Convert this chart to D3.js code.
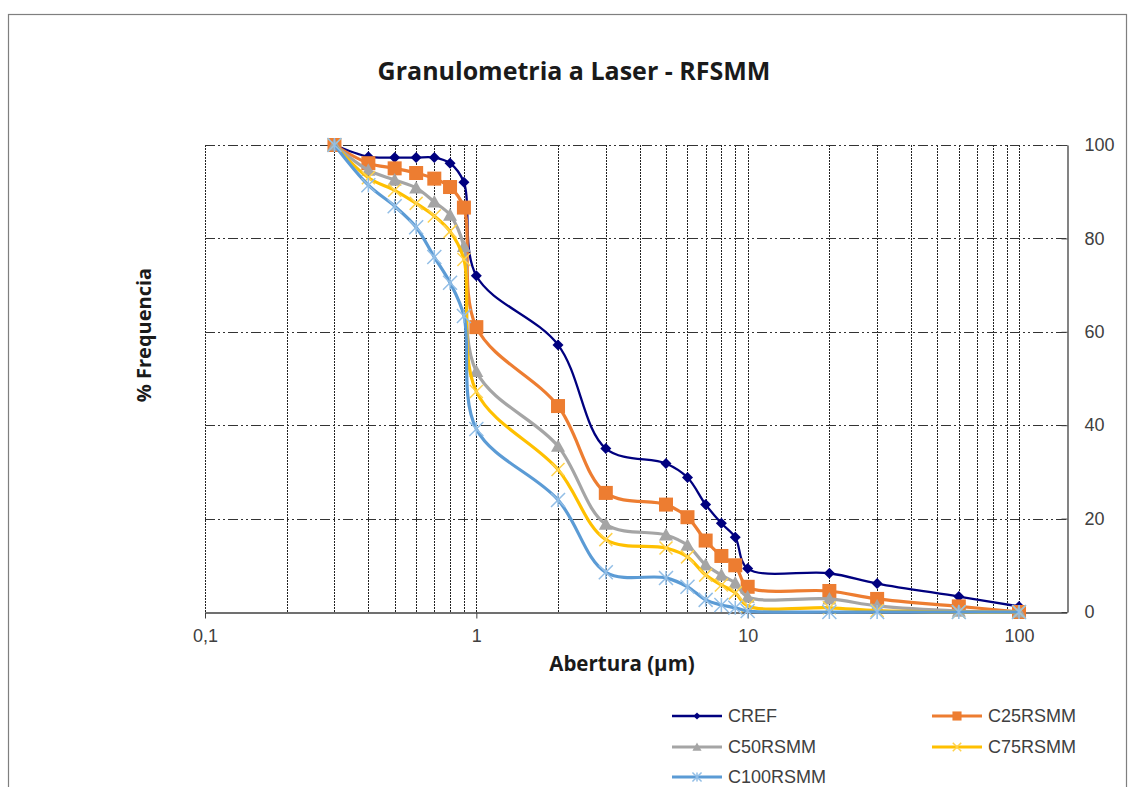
<!DOCTYPE html>
<html><head><meta charset="utf-8">
<script src="https://cdn.jsdelivr.net/npm/d3@7/dist/d3.min.js"></script>
<style>body{margin:0;background:#fff}svg{display:block}</style>
</head><body>
<svg id="chart" width="1133" height="787"></svg>
<script>
const aberturas = [0.3,0.4,0.5,0.6,0.7,0.8,0.9,1,2,3,5,6,7,8,9,10,20,30,60,100];
const cref    = [100,97.5,97.3,97.3,97.3,96.1,92,72,57.2,35,31.8,28.8,23,19,16,9.3,8.3,6.1,3.3,1.2];
const c25     = [100,96.1,95,94,92.8,91,86.6,61,44.1,25.5,23,20.3,15.3,12,10,5.4,4.5,2.8,1.2,0];
const c50     = [100,94.6,92.5,90.8,87.8,85,78.3,51.5,35.5,18.8,16.5,14.3,10.1,7.9,6.2,3.2,2.8,1.3,0.2,0];
const c75     = [100,93,90.3,87.5,84.8,81.5,75.5,47.2,30.5,15.5,13.7,11.8,7.9,5.8,4.1,1.3,0.9,0.3,0,0];
const c100    = [100,91.4,86.9,82.4,76,70.5,63.4,39.2,24,8.5,7.3,5.4,2.6,1.5,0.9,0.2,0,0,0,0];
const seriesNames = ["CREF","C25RSMM","C50RSMM","C75RSMM","C100RSMM"];
const xTickValues = [0.1,1,10,100];
const xTickLabels = ["0,1","1","10","100"];
const yTickValues = [0,20,40,60,80,100];
const xGridValues = [0.1,0.2,0.3,0.4,0.5,0.6,0.7,0.8,0.9,1,2,3,4,5,6,7,8,9,10,20,30,40,50,60,70,80,90,100];

const svg = d3.select("#chart");
const x = d3.scaleLog().domain([0.1,150]).range([205,1066.8]);
const y = d3.scaleLinear().domain([0,100]).range([612,145]);

// outer border
svg.append("rect").attr("x",8.5).attr("y",14.5).attr("width",1118).attr("height",800)
  .attr("fill","none").attr("stroke","#7f7f7f").attr("stroke-width",1.2);

// vertical grid
svg.append("g").selectAll("line").data(xGridValues).join("line")
  .attr("x1",d=>Math.round(x(d))+0.5).attr("x2",d=>Math.round(x(d))+0.5)
  .attr("y1",y(100)).attr("y2",y(0))
  .attr("stroke","#222").attr("stroke-width",1).attr("stroke-dasharray","2,1");

// horizontal grid
svg.append("g").selectAll("line").data(yTickValues.filter(v=>v>0)).join("line")
  .attr("x1",x(0.1)).attr("x2",x(150))
  .attr("y1",d=>Math.round(y(d))+0.5).attr("y2",d=>Math.round(y(d))+0.5)
  .attr("stroke","#333").attr("stroke-width",1.2).attr("stroke-dasharray","10,3,2,3,2,3");

// x axis
const xAxis = d3.axisBottom(x).tickValues(xTickValues).tickFormat((d,i)=>xTickLabels[i]).tickSize(6).tickSizeOuter(0);
const gx = svg.append("g").attr("transform","translate(0,612.5)").call(xAxis);
gx.select(".domain").attr("stroke","#404040").attr("stroke-width",1.3);
gx.selectAll(".tick line").attr("stroke","#404040");
gx.selectAll("text").attr("font-family","Liberation Sans, Arial, sans-serif").attr("font-size",18)
  .attr("fill","#404040").attr("dy","1.15em");

// right y axis
const yAxis = d3.axisRight(y).tickValues(yTickValues).tickSize(-6).tickSizeOuter(0);
const gy = svg.append("g").attr("transform","translate(1067.5,0)").call(yAxis);
gy.select(".domain").attr("stroke","#404040").attr("stroke-width",1.3);
gy.selectAll(".tick line").attr("stroke","#404040");
gy.selectAll("text").attr("font-family","Liberation Sans, Arial, sans-serif").attr("font-size",18)
  .attr("fill","#404040").attr("x",17);

// titles
svg.append("text").attr("x",574).attr("y",80).attr("text-anchor","middle")
  .attr("font-family","Open Sans, Lato, sans-serif").attr("font-weight","bold").attr("font-size",25)
  .attr("fill","#1a1a1a").text("Granulometria a Laser - RFSMM");
svg.append("text").attr("transform","translate(151,335) rotate(-90)").attr("text-anchor","middle")
  .attr("font-family","Open Sans, Lato, sans-serif").attr("font-weight","bold").attr("font-size",20)
  .attr("fill","#1a1a1a").text("% Frequencia");
svg.append("text").attr("x",622).attr("y",671).attr("text-anchor","middle")
  .attr("font-family","Open Sans, Lato, sans-serif").attr("font-weight","bold").attr("font-size",20.5)
  .attr("fill","#1a1a1a").text("Abertura (µm)");

const series = [
  {name:seriesNames[0], values:cref, color:"#00007f", mcolor:"#00007f", width:2.3, marker:"diamond", size:11},
  {name:seriesNames[1], values:c25,  color:"#ED7D31", mcolor:"#ED7D31", width:3.2, marker:"square", size:14},
  {name:seriesNames[2], values:c50,  color:"#A5A5A5", mcolor:"#A5A5A5", width:3.2, marker:"triangle", size:14},
  {name:seriesNames[3], values:c75,  color:"#FFC000", mcolor:"#FFD24D", width:3.2, marker:"x", size:13},
  {name:seriesNames[4], values:c100, color:"#5B9BD5", mcolor:"#92BEE6", width:3.2, marker:"star", size:14},
];

function drawMarker(g, type, cx, cy, s, color){
  const h = s/2;
  if(type==="diamond"){
    g.append("path").attr("d",`M${cx},${cy-h}L${cx+h},${cy}L${cx},${cy+h}L${cx-h},${cy}Z`).attr("fill",color);
  } else if(type==="square"){
    g.append("rect").attr("x",cx-h).attr("y",cy-h).attr("width",s).attr("height",s).attr("fill",color);
  } else if(type==="triangle"){
    g.append("path").attr("d",`M${cx},${cy-h}L${cx+h},${cy+h*0.8}L${cx-h},${cy+h*0.8}Z`).attr("fill",color);
  } else if(type==="x"){
    g.append("path").attr("d",`M${cx-h},${cy-h}L${cx+h},${cy+h}M${cx-h},${cy+h}L${cx+h},${cy-h}`)
      .attr("stroke",color).attr("stroke-width",1.5).attr("fill","none");
  } else if(type==="star"){
    g.append("path").attr("d",`M${cx-h},${cy-h}L${cx+h},${cy+h}M${cx-h},${cy+h}L${cx+h},${cy-h}M${cx},${cy-h}L${cx},${cy+h}`)
      .attr("stroke",color).attr("stroke-width",1.5).attr("fill","none");
  }
}

const line = d3.line().x((d,i)=>x(aberturas[i])).y(d=>y(d)).curve(d3.curveCatmullRom.alpha(0.5));
series.forEach(s=>{
  const g = svg.append("g");
  g.append("path").datum(s.values).attr("d",line).attr("fill","none")
    .attr("stroke",s.color).attr("stroke-width",s.width).attr("stroke-linejoin","round");
  s.values.forEach((v,i)=>drawMarker(g,s.marker,x(aberturas[i]),y(v),s.size,s.mcolor));
});

// legend
const legPos = [[672,716],[932,716],[672,747],[932,747],[672,777]];
series.forEach((s,i)=>{
  const [lx,ly] = legPos[i];
  const g = svg.append("g");
  g.append("line").attr("x1",lx).attr("x2",lx+50).attr("y1",ly).attr("y2",ly)
    .attr("stroke",s.color).attr("stroke-width",s.width);
  drawMarker(g,s.marker,lx+25,ly,s.size*0.65,s.mcolor);
  g.append("text").attr("x",lx+56).attr("y",ly+6).attr("font-family","Liberation Sans, Arial, sans-serif")
    .attr("font-size",18).attr("fill","#404040").text(s.name);
});
</script>
</body></html>
